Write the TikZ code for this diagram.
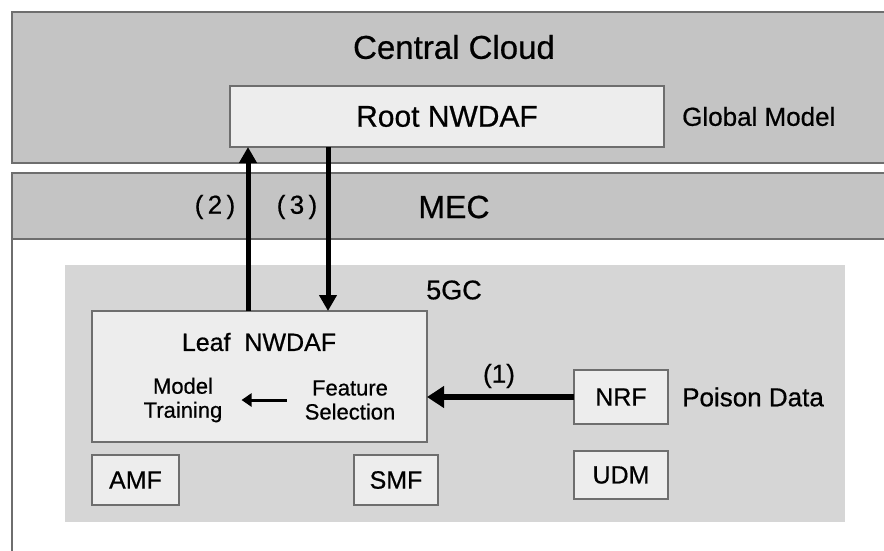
\documentclass[tikz,border=0pt]{standalone}
\usepackage{fontspec}
\setmainfont{Liberation Sans}[BoldFont={Liberation Sans}, BoldFeatures={FakeBold=0.6}]
\usetikzlibrary{positioning}
\usetikzlibrary{arrows.meta}

\definecolor{bandgray}{HTML}{C4C4C4}
\definecolor{coregray}{HTML}{D6D6D6}
\definecolor{boxgray}{HTML}{EDEDED}
\definecolor{edgegray}{HTML}{6E6E6E}
\newcommand{\fsz}[2]{\fontsize{#1}{#2}\selectfont\bfseries}

\begin{document}
\begin{tikzpicture}
                    [
                    x=1pt, y=-1pt,
                    node distance=18pt,
                    band/.style={fill=bandgray, draw=edgegray, line width=1.8pt},
                    nf/.style={shape=rectangle, draw=edgegray, fill=boxgray, line width=1.6pt, inner sep=0pt, outer sep=0pt, font=\fsz{25}{27}},
                    lbl/.style={inner sep=0pt, font=\fsz{26}{28}},
                    flow/.style={line width=5pt, -{Triangle[length=16pt,width=17pt]}},
                    ]
                    \fill[white] (0,0) rectangle (884,550);
                    \useasboundingbox (0,0) rectangle (884,550);
                    % % 背景层
                    \draw[band] (12,12) rectangle (900,163);
                    \draw[band] (12,173) rectangle (900,239);
                    \draw[edgegray, line width=1.8pt] (12,239) -- (12,560);
                    \fill[coregray] (65,265) rectangle (845,522);
                    %
                    \node[lbl, font=\fsz{33}{35}] (cloud) at (454,47) {Central Cloud};
                    \node[nf, minimum width=434pt, minimum height=61pt, font=\fsz{30}{32}] (root) at (447,116.5) {Root NWDAF};
                    \node[lbl, right=of root] (global) {Global Model};
                    \node[lbl, font=\fsz{32}{34}] (mec) at (454,207) {MEC};
                    \node[lbl, font=\fsz{27}{29}] (core) at (454,290) {5GC};

                    \node[nf, minimum width=335pt, minimum height=131pt] (leaf) at (259.5,376.5) {};
                    \node[lbl, font=\fsz{25}{27}] (leaftitle) at (259,342) {Leaf\ \ NWDAF};
                    \node[lbl, align=center, font=\fsz{22}{24}] (train) at (183,400) {Model\\Training};
                    \node[lbl, align=center, font=\fsz{22}{24}] (feat) at (350,400) {Feature\\Selection};

                    \node[nf, minimum width=94pt, minimum height=54pt] (nrf) at (621,397) {NRF};
                    \node[lbl, right=14pt of nrf] (poison) {Poison Data};
                    \node[nf, minimum width=94pt, minimum height=48pt, below=27pt of nrf] (udm) {UDM};
                    \node[nf, minimum width=87pt, minimum height=50pt, below right=13pt and 0pt of leaf.south west] (amf) {AMF};
                    \node[nf, minimum width=84pt, minimum height=50pt, below left=13pt and -11pt of leaf.south east] (smf) {SMF};
                    %
                    \coordinate (up) at ([xshift=156pt]leaf.north west);
                    \coordinate (down) at ([xshift=236pt]leaf.north west);
                    \draw[flow] (up) -- (up |- root.south);
                    \draw[flow] (down |- root.south) -- (down);
                    \draw[flow, line width=5.5pt, -{Triangle[length=17pt,width=21pt]}] (nrf.west) -- (nrf.west -| leaf.east);
                    \draw[line width=3pt, -{Triangle[length=10pt,width=13pt]}, shorten <=18pt, shorten >=19pt] (feat.west) -- (train.east);

                    \node[lbl] (s1) at (499,376) {(1)};
                    \node[lbl] (s2) at (215,207) {(\,2\,)};
                    \node[lbl] (s3) at (297,207) {(\,3\,)};
\end{tikzpicture}
\end{document}
